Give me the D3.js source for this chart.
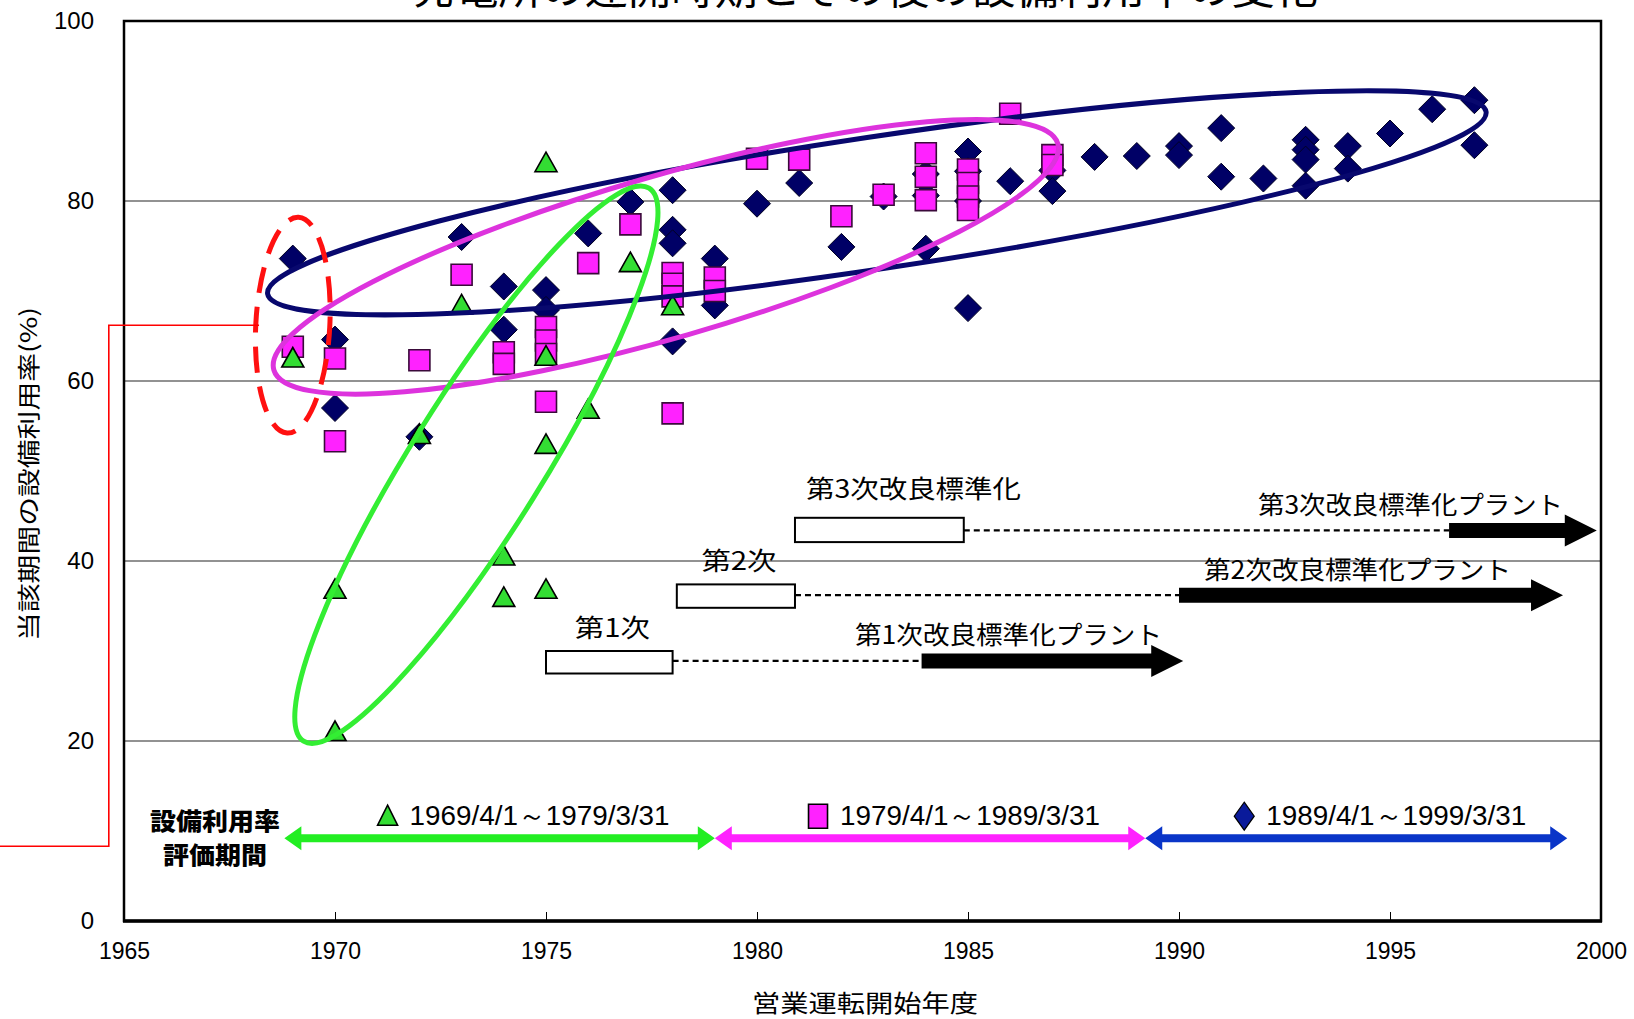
<!DOCTYPE html>
<html><head><meta charset="utf-8">
<script src="https://cdn.jsdelivr.net/npm/d3@7"></script>
<style>body{margin:0;background:#fff;} svg{display:block}</style>
</head><body><svg id="c" width="1634" height="1019"></svg>
<script>
// ---------- data ----------
const title = "発電所の運開時期とその後の設備利用率の変化";
const xLabel = "営業運転開始年度";
const yLabel = "当該期間の設備利用率(%)";
const xTicks = [1965,1970,1975,1980,1985,1990,1995,2000];
const yTicks = [0,20,40,60,80,100];
const gridTicks = [20,40,60,80];
const periodLabels = ["1969/4/1～1979/3/31","1979/4/1～1989/3/31","1989/4/1～1999/3/31"];
const periodStart = [1968.8, 1979, 1989.2];
const periodEnd = [1979, 1989.2, 1999.2];
const periodTitle = ["設備利用率","評価期間"];
// period 1969-1979 (triangles)
const tri = [[1969,62.5],[1970,36.8],[1970,21.0],[1972,54.0],[1973,68.4],[1974,40.5],[1974,35.9],[1975,84.2],[1975,62.7],[1975,52.9],[1975,36.8],[1976,56.8],[1977,73.1],[1978,68.3]];
// period 1979-1989 (squares)
const sq = [[1969,63.8],[1970,62.5],[1970,53.3],[1972,62.3],[1973,71.8],[1974,63.2],[1974,61.9],[1975,66.0],[1975,64.5],[1975,63.0],[1975,57.7],[1976,73.1],[1977,77.4],[1978,72.0],[1978,70.8],[1978,69.4],[1978,56.4],[1979,71.5],[1979,70.0],[1980,84.7],[1981,84.6],[1982,78.3],[1983,80.7],[1984,85.3],[1984,82.7],[1984,80.1],[1985,83.5],[1985,82.0],[1985,80.5],[1985,79.0],[1986,89.7],[1987,85.1],[1987,84.0]];
// period 1989-1999 (diamonds)
const dia = [[1969,73.6],[1970,64.6],[1970,57.0],[1972,53.8],[1973,76.0],[1974,70.5],[1974,65.7],[1975,70.1],[1975,67.9],[1976,76.4],[1977,79.9],[1978,81.2],[1978,76.8],[1978,75.3],[1978,64.4],[1979,73.6],[1979,68.4],[1980,79.7],[1981,82.0],[1982,74.9],[1983,80.5],[1984,83.0],[1984,80.6],[1984,74.7],[1985,85.5],[1985,83.3],[1985,80.0],[1985,68.1],[1986,82.2],[1987,83.4],[1987,81.1],[1988,84.9],[1989,85.0],[1990,86.1],[1990,85.1],[1991,88.1],[1991,82.7],[1992,82.5],[1993,86.8],[1993,85.7],[1993,84.6],[1993,81.7],[1994,86.1],[1994,83.6],[1995,87.5],[1996,90.2],[1997,91.2],[1997,86.2]];
// improvement standardization programmes
const stdNames = ["第1次","第2次","第3次改良標準化"];
const stdBoxStart = [1975, 1978.1, 1980.9];
const stdBoxEnd = [1978, 1980.9, 1984.9];
const stdBoxLow = [27.5, 34.8, 42.1];
const stdBoxHigh = [30.0, 37.4, 44.8];
const plantNames = ["第1次改良標準化プラント","第2次改良標準化プラント","第3次改良標準化プラント"];
const plantStart = [1983.9, 1990.0, 1996.4];
const plantEnd = [1990.1, 1999.1, 1999.9];
const plantLevel = [28.9, 36.2, 43.4];

// ---------- layout ----------
const svg = d3.select("#c");
const x = d3.scaleLinear([1965,2000],[124,1601]);
const y = d3.scaleLinear([0,100],[921,21]);
const jp = "'Noto Sans CJK JP','Noto Sans',sans-serif";
const num = "'Liberation Sans Narrow','Liberation Sans',Arial,sans-serif";

// title (mostly cut off at the top, as in the source)
svg.append("text").attr("x",865).attr("y",4).attr("text-anchor","middle")
  .attr("font-family",jp).attr("font-size",42).attr("textLength",906).attr("lengthAdjust","spacingAndGlyphs").text(title);

// gridlines
svg.append("g").selectAll("line").data(gridTicks).join("line")
  .attr("x1",x(1965)).attr("x2",x(2000)).attr("y1",d=>y(d)).attr("y2",d=>y(d))
  .attr("stroke","#6e6e6e").attr("stroke-width",1.3);

// axes
const gx = svg.append("g").attr("transform",`translate(0,${y(0)})`)
  .call(d3.axisBottom(x).tickValues(xTicks).tickSize(-9).tickPadding(22).tickFormat(d3.format("d")));
gx.select(".domain").remove();
gx.selectAll(".tick line").attr("stroke","#000").attr("stroke-width",1);
gx.selectAll("text").attr("font-family",num).attr("font-size",23).attr("fill","#000");
const gy = svg.append("g").attr("transform",`translate(${x(1965)},0)`)
  .call(d3.axisLeft(y).tickValues(yTicks).tickSize(0).tickPadding(30));
gy.select(".domain").remove();
gy.selectAll("text").attr("font-family","'Liberation Sans',Arial,sans-serif").attr("font-size",24).attr("fill","#000");

// frame
svg.append("rect").attr("x",x(1965)).attr("y",y(100)).attr("width",x(2000)-x(1965)).attr("height",y(0)-y(100))
  .attr("fill","none").attr("stroke","#000").attr("stroke-width",2.5);
svg.append("line").attr("x1",x(1965)-1).attr("x2",x(2000)+1).attr("y1",y(0)).attr("y2",y(0)).attr("stroke","#000").attr("stroke-width",3.5);

// axis titles
svg.append("text").attr("x",865).attr("y",1001).attr("text-anchor","middle").attr("dominant-baseline","central")
  .attr("font-family",jp).attr("font-size",24).attr("textLength",226).attr("lengthAdjust","spacingAndGlyphs").text(xLabel);
svg.append("text").attr("transform","translate(27,474) rotate(-90)").attr("text-anchor","middle").attr("dominant-baseline","central")
  .attr("font-family",jp).attr("font-size",23).attr("textLength",334).attr("lengthAdjust","spacingAndGlyphs").text(yLabel);

// markers
const diaPath = (s)=>`M0,${-s}L${s},0L0,${s}L${-s},0Z`;
const sqPath = (w,h)=>`M${-w/2},${-h/2}h${w}v${h}h${-w}Z`;
const triPath = `M0,-11L11,8.5L-11,8.5Z`;
const cDia = "#000066", cSq = "#ff22ff", cTri = "#33dd33";

svg.append("g").selectAll("path").data(dia).join("path")
  .attr("transform",d=>`translate(${x(d[0])},${y(d[1])})`).attr("d",diaPath(13.5))
  .attr("fill",cDia).attr("stroke","#000022").attr("stroke-width",1);
svg.append("g").selectAll("path").data(sq).join("path")
  .attr("transform",d=>`translate(${x(d[0])},${y(d[1])})`).attr("d",sqPath(21,21))
  .attr("fill",cSq).attr("stroke","#3a0a3a").attr("stroke-width",1.6);
svg.append("g").selectAll("path").data(tri).join("path")
  .attr("transform",d=>`translate(${x(d[0])},${y(d[1])})`).attr("d",triPath)
  .attr("fill",cTri).attr("stroke","#000").attr("stroke-width",1.6);

// group ellipses (annotation: center in data units, radii/angle in px)
const ellC = [[1982.84,79.8],[1977.84,73.8],[1973.35,50.7]];
const ellR = [[616,66,-8.5],[408,81,-16.1],[326,66,-58]];
const ellCol = ["#08086e","#dd33dd","#33ee33"];
ellC.forEach((c,i)=>{
  svg.append("ellipse").attr("transform",`translate(${x(c[0])},${y(c[1])}) rotate(${ellR[i][2]})`)
    .attr("rx",ellR[i][0]).attr("ry",ellR[i][1]).attr("fill","none").attr("stroke",ellCol[i]).attr("stroke-width",5);
});

// red dashed highlight & connector
svg.append("ellipse").attr("transform",`translate(${x(1969)},${y(66.2)}) rotate(3)`)
  .attr("rx",37).attr("ry",108).attr("fill","none").attr("stroke","#ff1010").attr("stroke-width",5)
  .attr("stroke-dasharray","26 14").attr("stroke-dashoffset",8);
const conn = [[1968.2,66.2],[1964.64,66.2],[1964.64,8.3],[1962.0,8.3]];
svg.append("path").attr("d",d3.line().x(d=>x(d[0])).y(d=>y(d[1]))(conn))
  .attr("fill","none").attr("stroke","#ff0000").attr("stroke-width",1.6);

// standardization boxes, dashed leaders and arrows
function blockArrow(x0,x1,yc,sh,hh,hl){
  return `M${x0},${yc-sh/2}L${x1-hl},${yc-sh/2}L${x1-hl},${yc-hh/2}L${x1},${yc}L${x1-hl},${yc+hh/2}L${x1-hl},${yc+sh/2}L${x0},${yc+sh/2}Z`;
}
const stdLabelW = [75,75,215];
const stdLabelDy = [-25,-25,-31];
const plantLabelW = [307,307,305];
stdNames.forEach((n,i)=>{
  const bx0=x(stdBoxStart[i]), bx1=x(stdBoxEnd[i]), by0=y(stdBoxHigh[i]), by1=y(stdBoxLow[i]);
  const yl = y(plantLevel[i]);
  svg.append("line").attr("x1",bx1).attr("x2",x(plantStart[i])).attr("y1",yl).attr("y2",yl)
    .attr("stroke","#000").attr("stroke-width",2.2).attr("stroke-dasharray","6 4");
  svg.append("rect").attr("x",bx0).attr("y",by0).attr("width",bx1-bx0).attr("height",by1-by0)
    .attr("fill","#fff").attr("stroke","#000").attr("stroke-width",2);
  svg.append("path").attr("d",blockArrow(x(plantStart[i]),x(plantEnd[i]),yl,15,32,32)).attr("fill","#000");
  const lx = i<2 ? (bx0+bx1)/2+3 : bx0+11+stdLabelW[i]/2;
  svg.append("text").attr("x",lx).attr("y",by0+stdLabelDy[i]).attr("text-anchor","middle").attr("dominant-baseline","central")
    .attr("font-family",jp).attr("font-size",25).attr("textLength",stdLabelW[i]).attr("lengthAdjust","spacingAndGlyphs").text(n);
});
const plantLabelX = [855,1204,1258];
const plantLabelDy = [-28,-27,-27];
plantNames.forEach((n,i)=>{
  svg.append("text").attr("x",plantLabelX[i]).attr("y",y(plantLevel[i])+plantLabelDy[i]).attr("dominant-baseline","central")
    .attr("font-family",jp).attr("font-size",25).attr("textLength",plantLabelW[i]).attr("lengthAdjust","spacingAndGlyphs").text(n);
});

// evaluation period legend
const legCol = ["#22ee22","#ff22ff","#0a35c8"];
const legV = 9.2;
function dblArrow(x0,x1,yc,sh,hh,hl){
  return `M${x0},${yc}L${x0+hl},${yc-hh/2}L${x0+hl},${yc-sh/2}L${x1-hl},${yc-sh/2}L${x1-hl},${yc-hh/2}L${x1},${yc}L${x1-hl},${yc+hh/2}L${x1-hl},${yc+sh/2}L${x0+hl},${yc+sh/2}L${x0+hl},${yc+hh/2}Z`;
}
periodLabels.forEach((lab,i)=>{
  const x0=x(periodStart[i]), x1=x(periodEnd[i]), yc=y(legV);
  svg.append("path").attr("d",dblArrow(x0,x1,yc,8,24,17)).attr("fill",legCol[i]);
  const tc = (x0+x1)/2+40, ty = yc-22, tw=260;
  svg.append("text").attr("x",tc).attr("y",ty).attr("text-anchor","middle").attr("dominant-baseline","central")
    .attr("font-family",num).attr("font-size",27).attr("textLength",tw).attr("lengthAdjust","spacingAndGlyphs").text(lab);
  const mx = tc-tw/2-22;
  const g = svg.append("g").attr("transform",`translate(${mx},${ty})`);
  if(i===0) g.append("path").attr("d","M0,-11L10,9L-10,9Z").attr("fill",cTri).attr("stroke","#000").attr("stroke-width",1.6);
  if(i===1) g.append("path").attr("d",sqPath(19,24)).attr("fill",cSq).attr("stroke","#000").attr("stroke-width",1.6);
  if(i===2) g.append("path").attr("d","M0,-14L10,0L0,14L-10,0Z").attr("fill","#0a1a9a").attr("stroke","#000").attr("stroke-width",1.2);
});
periodTitle.forEach((t,i)=>{
  svg.append("text").attr("x",215).attr("y",819+i*34).attr("text-anchor","middle").attr("dominant-baseline","central")
    .attr("font-family",jp).attr("font-weight",900).attr("font-size",24)
    .attr("textLength",i===0?130:104).attr("lengthAdjust","spacingAndGlyphs").text(t);
});
</script></body></html>
